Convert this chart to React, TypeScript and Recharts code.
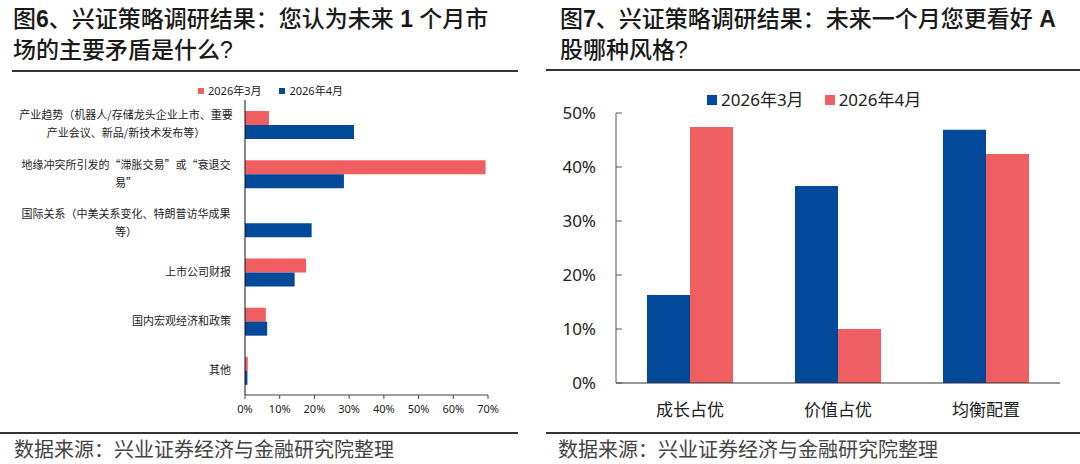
import { BarChart, Bar, XAxis, YAxis, Legend } from 'recharts'

const RED = '#EF5F62'
const BLUE = '#03499A'
const FONT = '"Noto Sans", "Noto Sans CJK SC", sans-serif'
const CJK_FONT = '"Noto Sans CJK SC", sans-serif'
const TITLE_FONT = '"Liberation Sans", "Noto Sans CJK SC", sans-serif'

// 图6：未来1个月市场的主要矛盾
const conflictCategories = [
	'产业趋势（机器人/存储龙头企业上市、重要\n产业会议、新品/新技术发布等）',
	'地缘冲突所引发的“滞胀交易”或“衰退交\n易”',
	'国际关系（中美关系变化、特朗普访华成果\n等）',
	'上市公司财报',
	'国内宏观经济和政策',
	'其他',
]
const conflictMarch = [6.9, 69.3, 0, 17.6, 6.0, 0.8]
const conflictApril = [31.4, 28.5, 19.2, 14.3, 6.4, 0.7]
const conflictTicks = [0, 10, 20, 30, 40, 50, 60, 70]

// 图7：未来一个月更看好A股哪种风格
const styleCategories = ['成长占优', '价值占优', '均衡配置']
const styleMarch = [16.3, 36.5, 46.9]
const styleApril = [47.4, 10.0, 42.4]
const styleTicks = [0, 10, 20, 30, 40, 50]

const conflictData = conflictCategories.map((name, i) => ({
	name,
	march: conflictMarch[i],
	april: conflictApril[i],
}))

const styleData = styleCategories.map((name, i) => ({
	name,
	march: styleMarch[i],
	april: styleApril[i],
}))

const pct = (v: number) => `${v}%`

const CategoryTick = ({ x, y, payload }: any) => {
	const lines = String(payload.value).split('\n')
	const lineHeight = 18
	const top = y - ((lines.length - 1) * lineHeight) / 2
	const multi = lines.length > 1
	const cx = multi ? x - 105 : x
	return (
		<text x={cx} y={top} textAnchor={multi ? 'middle' : 'end'} fontSize={11} fill='#222' fontFamily={CJK_FONT}>
			{lines.map((line, i) => (
				<tspan key={i} x={cx} dy={i === 0 ? '0.35em' : lineHeight}>
					{line}
				</tspan>
			))}
		</text>
	)
}

const LegendItems = ({ items, size, box, gap }: { items: { label: string; color: string }[]; size: number; box: number; gap: number }) => (
	<div style={{ display: 'flex', alignItems: 'center', fontSize: size, color: '#222', fontFamily: FONT, lineHeight: 1.2, whiteSpace: 'nowrap' }}>
		{items.map((item, i) => (
			<div key={item.label} style={{ display: 'flex', alignItems: 'center', marginLeft: i === 0 ? 0 : gap }}>
				<span style={{ display: 'inline-block', width: box, height: box, background: item.color, marginRight: 4 }} />
				<span>{item.label}</span>
			</div>
		))}
	</div>
)

const Title = ({ left, lines }: { left: number; lines: React.ReactNode[] }) => (
	<div
		style={{
			position: 'absolute',
			left,
			top: 4,
			fontFamily: TITLE_FONT,
			fontSize: 23,
			lineHeight: '31px',
			color: '#1a1a1a',
			fontWeight: 500,
			whiteSpace: 'nowrap',
		}}
	>
		{lines.map((l, i) => (
			<div key={i}>{l}</div>
		))}
	</div>
)

const Rule = ({ left, width, top }: { left: number; width: number; top: number }) => (
	<div style={{ position: 'absolute', left, width, top, height: 2, background: '#333' }} />
)

const Source = ({ left }: { left: number }) => (
	<div
		style={{
			position: 'absolute',
			left,
			top: 437,
			fontFamily: FONT,
			fontSize: 20,
			lineHeight: '26px',
			color: '#444',
			whiteSpace: 'nowrap',
		}}
	>
		数据来源：兴业证券经济与金融研究院整理
	</div>
)

export default function App() {
	return (
		<div style={{ position: 'fixed', left: 0, top: 0, width: 1080, height: 464, background: '#fff', overflow: 'hidden' }}>
			<Title
				left={13}
				lines={[
					<>
						图<b>6</b>、兴证策略调研结果：您认为未来 <b>1</b> 个月市
					</>,
					'场的主要矛盾是什么?',
				]}
			/>
			<Title
				left={560}
				lines={[
					<>
						图<b>7</b>、兴证策略调研结果：未来一个月您更看好 <b>A</b>
					</>,
					'股哪种风格?',
				]}
			/>
			<Rule left={12} width={506} top={70} />
			<Rule left={546} width={534} top={69} />
			<Rule left={0} width={518} top={432} />
			<Rule left={546} width={534} top={432} />
			<Source left={14} />
			<Source left={558} />

			<div style={{ position: 'absolute', left: 0, top: 70 }}>
				<BarChart
					width={520}
					height={360}
					data={conflictData}
					layout='vertical'
					margin={{ top: 30, right: 32, bottom: 10, left: 0 }}
					barSize={14}
					barGap={0}
				>
					<Legend
						verticalAlign='middle'
						align='center'
						wrapperStyle={{ position: 'absolute', top: 14, left: 198, width: 'auto' }}
						content={() => (
							<LegendItems
								size={11}
								box={6}
								gap={18}
								items={[
									{ label: '2026年3月', color: RED },
									{ label: '2026年4月', color: BLUE },
								]}
							/>
						)}
					/>
					<XAxis
						type='number'
						domain={[0, 70]}
						ticks={conflictTicks}
						tickFormatter={pct}
						axisLine={{ stroke: '#444' }}
						tickLine={{ stroke: '#444' }}
						tickSize={4}
						tickMargin={6}
						tick={{ fontSize: 11, fill: '#222', fontFamily: FONT }}
						height={25}
						interval={0}
					/>
					<YAxis
						type='category'
						dataKey='name'
						width={245}
						axisLine={{ stroke: '#111' }}
						tickLine={false}
						tickSize={0}
						tickMargin={14}
						tick={<CategoryTick />}
						interval={0}
					/>
					<Bar dataKey='march' name='2026年3月' fill={RED} isAnimationActive={false} />
					<Bar dataKey='april' name='2026年4月' fill={BLUE} isAnimationActive={false} />
				</BarChart>
			</div>

			<div style={{ position: 'absolute', left: 540, top: 70 }}>
				<BarChart
					width={540}
					height={360}
					data={styleData}
					margin={{ top: 43, right: 20, bottom: 7, left: 0 }}
					barSize={43}
					barGap={0}
				>
					<Legend
						verticalAlign='middle'
						align='center'
						wrapperStyle={{ position: 'absolute', top: 20, left: 167, width: 'auto' }}
						content={() => (
							<LegendItems
								size={17}
								box={10}
								gap={21}
								items={[
									{ label: '2026年3月', color: BLUE },
									{ label: '2026年4月', color: RED },
								]}
							/>
						)}
					/>
					<XAxis
						dataKey='name'
						axisLine={{ stroke: '#333' }}
						tickLine={false}
						tickSize={0}
						tickMargin={21}
						tick={{ fontSize: 17, fill: '#222', fontFamily: FONT }}
						height={40}
						interval={0}
					/>
					<YAxis
						domain={[0, 50]}
						ticks={styleTicks}
						tickFormatter={pct}
						width={76}
						axisLine={{ stroke: '#555' }}
						tickLine={{ stroke: '#555' }}
						tickSize={-6}
						tickMargin={26}
						tick={{ fontSize: 17, fill: '#222', fontFamily: FONT }}
						interval={0}
					/>
					<Bar dataKey='march' name='2026年3月' fill={BLUE} isAnimationActive={false} />
					<Bar dataKey='april' name='2026年4月' fill={RED} isAnimationActive={false} />
				</BarChart>
			</div>
		</div>
	)
}
